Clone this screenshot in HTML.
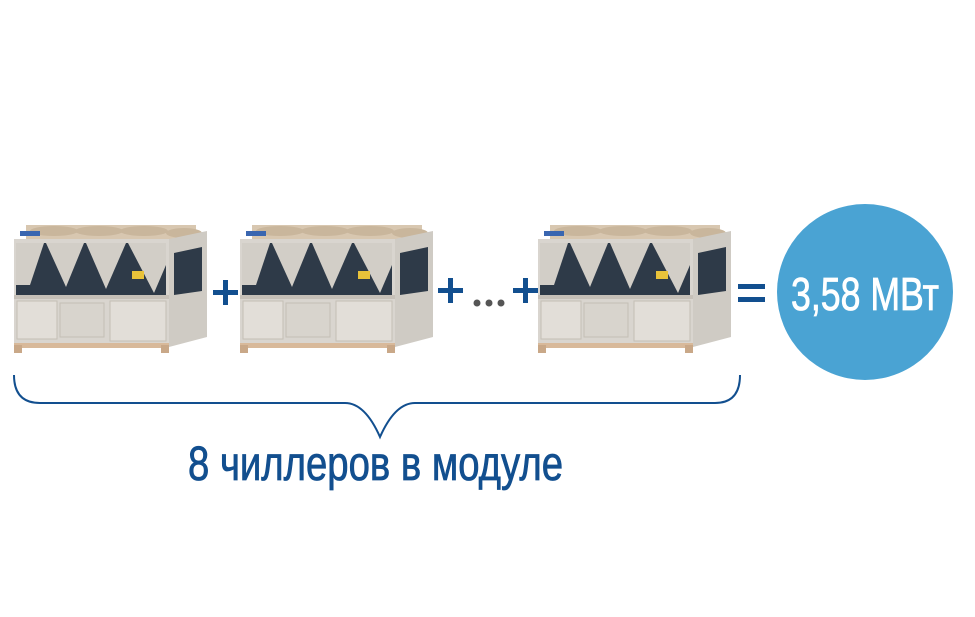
<!DOCTYPE html>
<html><head><meta charset="utf-8"><style>html,body{margin:0;padding:0;background:#fff;}svg{display:block}</style></head>
<body>
<svg width="975" height="617" viewBox="0 0 975 617" xmlns="http://www.w3.org/2000/svg">
<defs>
<g id="ch">
  <rect x="12" y="0" width="170" height="14" fill="#d8c7b0"/>
  <ellipse cx="40" cy="6" rx="24" ry="5" fill="#c9b69c"/>
  <ellipse cx="85" cy="6" rx="24" ry="5" fill="#c9b69c"/>
  <ellipse cx="130" cy="6" rx="24" ry="5" fill="#c9b69c"/>
  <ellipse cx="170" cy="8" rx="18" ry="5" fill="#c9b69c"/>
  <polygon points="155,14 193,6 193,112 155,122" fill="#cfcbc4"/>
  <polygon points="160,28 188,22 188,66 160,70" fill="#2e3a48"/>
  <rect x="0" y="14" width="155" height="108" fill="#d9d5cf"/>
  <rect x="2" y="18" width="150" height="52" fill="#2e3a48"/>
  <polygon points="2,18 30,18 16,60 2,60" fill="#d2cec7"/>
  <polygon points="32,18 70,18 52,62" fill="#d2cec7"/>
  <polygon points="72,18 112,18 92,64" fill="#d2cec7"/>
  <polygon points="114,18 152,18 152,40 140,68" fill="#d2cec7"/>
  <rect x="118" y="46" width="12" height="8" fill="#e8c23a"/>
  <rect x="0" y="70" width="155" height="4" fill="#c6c0b8"/>
  <rect x="3" y="76" width="40" height="38" fill="#e2ded8" stroke="#c4beb5"/>
  <rect x="46" y="78" width="44" height="34" fill="#d8d4cd" stroke="#c4beb5"/>
  <rect x="96" y="76" width="56" height="40" fill="#e2ded8" stroke="#c4beb5"/>
  <rect x="0" y="118" width="155" height="5" fill="#d8b99a"/>
  <rect x="0" y="120" width="8" height="8" fill="#c9a888"/>
  <rect x="147" y="120" width="8" height="8" fill="#c9a888"/>
  <rect x="6" y="6" width="20" height="5" fill="#3a66b0"/>
</g>
<g id="plus"><rect x="0" y="10" width="25" height="5" fill="#124f8f"/><rect x="10" y="0" width="5" height="25" fill="#124f8f"/></g>
</defs>
<use href="#ch" transform="translate(14,225)"/>
<use href="#ch" transform="translate(240,225)"/>
<use href="#ch" transform="translate(538,225)"/>
<use href="#plus" transform="translate(213,280)"/>
<use href="#plus" transform="translate(438,278)"/>
<use href="#plus" transform="translate(513,278)"/>
<circle cx="477" cy="303" r="3.5" fill="#555"/>
<circle cx="489" cy="303" r="3.5" fill="#555"/>
<circle cx="501" cy="303" r="3.5" fill="#555"/>
<rect x="738" y="284" width="27" height="5" fill="#124f8f"/>
<rect x="738" y="297" width="27" height="5" fill="#124f8f"/>
<circle cx="865" cy="292" r="88" fill="#4aa3d3"/>
<text x="865" y="310" font-family="Liberation Sans, sans-serif" font-size="46" fill="#fff" stroke="#fff" stroke-width="0.8" text-anchor="middle" textLength="148" lengthAdjust="spacingAndGlyphs">3,58 МВт</text>
<path d="M14,375 Q14,403 40,403 L345,403 Q365,403 380,437 Q395,403 415,403 L715,403 Q740,403 740,375" fill="none" stroke="#124f8f" stroke-width="2"/>
<text x="188" y="480" font-family="Liberation Sans, sans-serif" font-size="48" fill="#124f8f" stroke="#124f8f" stroke-width="0.8" textLength="375" lengthAdjust="spacingAndGlyphs">8 чиллеров в модуле</text>
</svg>
</body></html>
